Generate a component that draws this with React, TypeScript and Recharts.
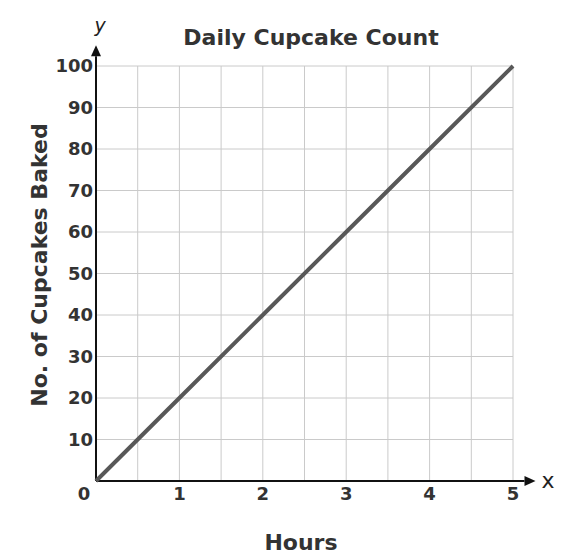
import {
  CartesianGrid,
  Line,
  LineChart,
  ReferenceLine,
  XAxis,
  YAxis,
} from "recharts";

const hours = [0, 1, 2, 3, 4, 5];
const cupcakes = [0, 20, 40, 60, 80, 100];
const xTicks = [0, 0.5, 1, 1.5, 2, 2.5, 3, 3.5, 4, 4.5, 5];
const yTicks = [0, 10, 20, 30, 40, 50, 60, 70, 80, 90, 100];

const data = hours.map((h, i) => ({ hour: h, count: cupcakes[i] }));

const FONT = "'DejaVu Sans', Verdana, sans-serif";
const INK = "#333";

function XTick({ x, y, payload }: any) {
  const v = payload.value;
  if (!Number.isInteger(v)) return null;
  return (
    <text
      x={v === 0 ? x - 12 : x}
      y={y + 11}
      textAnchor="middle"
      fill={INK}
      fontSize={18}
      fontWeight="bold"
      fontFamily={FONT}
    >
      {v}
    </text>
  );
}

function YTick({ x, y, payload }: any) {
  if (payload.value === 0) return null;
  return (
    <text
      x={x}
      y={y + 6}
      textAnchor="end"
      fill={INK}
      fontSize={18}
      fontWeight="bold"
      fontFamily={FONT}
    >
      {payload.value}
    </text>
  );
}

function Arrow({ x1, y1, x2, y2 }: any) {
  const dx = x2 - x1;
  const dy = y2 - y1;
  const len = Math.hypot(dx, dy) || 1;
  const ux = dx / len;
  const uy = dy / len;
  const bx = x2 - ux * 11;
  const by = y2 - uy * 11;
  const pts = `${x2},${y2} ${bx - uy * 5},${by + ux * 5} ${bx + uy * 5},${by - ux * 5}`;
  return (
    <g>
      <line x1={x1} y1={y1} x2={bx} y2={by} stroke="#111" strokeWidth={2} />
      <polygon points={pts} fill="#111" />
    </g>
  );
}

export default function App() {
  return (
    <div style={{ position: "absolute", left: 0, top: 0, background: "#fff" }}>
      <LineChart
        width={584}
        height={560}
        data={data}
        margin={{ top: 66, right: 71, bottom: 49, left: 36 }}
      >
        <CartesianGrid stroke="#cacaca" strokeWidth={1} />
        <XAxis
          dataKey="hour"
          type="number"
          domain={[0, 5]}
          ticks={xTicks}
          tick={<XTick />}
          tickLine={false}
          axisLine={false}
          height={30}
          interval={0}
        />
        <YAxis
          type="number"
          domain={[0, 100]}
          ticks={yTicks}
          tick={<YTick />}
          tickLine={false}
          tickSize={0}
          tickMargin={3}
          axisLine={false}
          width={60}
          interval={0}
        />
        <ReferenceLine
          segment={[
            { x: 0, y: 0 },
            { x: 0, y: 105 },
          ]}
          ifOverflow="visible"
          shape={<Arrow />}
        />
        <ReferenceLine
          segment={[
            { x: 0, y: 0 },
            { x: 5.27, y: 0 },
          ]}
          ifOverflow="visible"
          shape={<Arrow />}
        />
        <Line
          dataKey="count"
          type="linear"
          stroke="#585858"
          strokeWidth={4}
          dot={false}
          activeDot={false}
          isAnimationActive={false}
        />
        <text
          x={311}
          y={45}
          textAnchor="middle"
          fontFamily={FONT}
          fontWeight="bold"
          fontSize={22}
          fill="#333"
        >
          Daily Cupcake Count
        </text>
        <text
          x={301}
          y={550}
          textAnchor="middle"
          fontFamily={FONT}
          fontWeight="bold"
          fontSize={22}
          fill="#333"
        >
          Hours
        </text>
        <text
          transform="translate(47,265) rotate(-90)"
          textAnchor="middle"
          fontFamily={FONT}
          fontWeight="bold"
          fontSize={22}
          fill="#333"
        >
          No. of Cupcakes Baked
        </text>
        <text
          x={100}
          y={32}
          textAnchor="middle"
          fontFamily={FONT}
          fontStyle="italic"
          fontSize={19}
          fill="#222"
        >
          y
        </text>
        <text
          x={548}
          y={488}
          textAnchor="middle"
          fontFamily={FONT}
          fontSize={22}
          fill="#222"
        >
          x
        </text>
      </LineChart>
    </div>
  );
}
